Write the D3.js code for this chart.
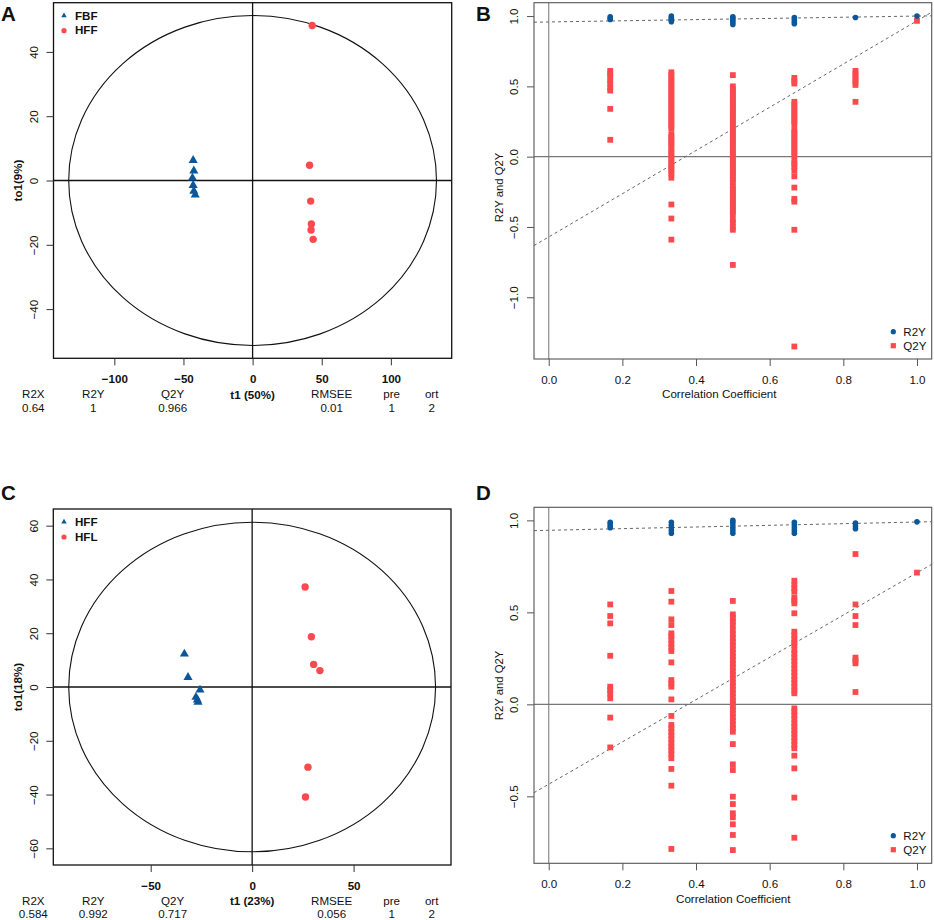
<!DOCTYPE html>
<html>
<head>
<meta charset="utf-8">
<script src="https://cdn.jsdelivr.net/npm/d3@7"></script>
<style>
body { margin: 0; background: #fff; }
text { font-family: "Liberation Sans", Arial, sans-serif; fill: #111; }
</style>
</head>
<body>
<svg id="fig" width="934" height="920"></svg>
<script>
// ---------- score plot data (t1, to1) ----------
var groupsA = ["FBF", "HFF"];
var scoreA_FBF = [[-43, 6.3], [-42.5, 3.0], [-43.5, 0.8], [-43, -1.5], [-42.5, -3.3], [-41.5, -4.5]];
var scoreA_HFF = [[43.1, 48.2], [41.2, 4.75], [42, -6.4], [42.5, -13.5], [42.3, -15.4], [43.8, -18.3]];
var statsA = ["0.64", "1", "0.966", "0.01", "1", "2"];

var groupsC = ["HFF", "HFL"];
var scoreC_HFF = [[-33.4, 12.3], [-31.6, 3.6], [-25.7, -1.1], [-27.7, -3.8], [-27, -4.8], [-26.7, -5.6]];
var scoreC_HFL = [[26.1, 37.2], [29.2, 18.7], [30.3, 8.4], [33.4, 6.1], [27.5, -29.8], [26.3, -40.9]];
var statsC = ["0.584", "0.992", "0.717", "0.056", "1", "2"];

var statNames = ["R2X", "R2Y", "Q2Y", "RMSEE", "pre", "ort"];

// ---------- permutation data ----------
var corrX = [0.167, 0.333, 0.5, 0.667, 0.833, 1.0];

var r2B = [
  [0.975, 0.985, 0.995],
  [0.96, 0.97, 0.98, 0.99, 1.0],
  [0.94, 0.955, 0.97, 0.985, 0.995],
  [0.945, 0.96, 0.975, 0.99],
  [0.99],
  [1.0]
];
var q2B = [
  [0.61, 0.59, 0.57, 0.54, 0.52, 0.49, 0.47, 0.34, 0.12],
  [0.60, 0.58, 0.56, 0.54, 0.52, 0.50, 0.48, 0.46, 0.44, 0.42, 0.40, 0.38, 0.36, 0.34, 0.32, 0.30,
   0.28, 0.26, 0.24, 0.22, 0.20, 0.16, 0.14, 0.12, 0.10, 0.085, 0.06, 0.04, 0.02, 0.00, -0.02,
   -0.04, -0.06, -0.08, -0.10, -0.12, -0.15, -0.34, -0.44, -0.59],
  [0.58, 0.50, 0.48, 0.46, 0.44, 0.42, 0.40, 0.38, 0.36, 0.34, 0.32, 0.30, 0.28, 0.26, 0.24, 0.22,
   0.20, 0.18, 0.16, 0.14, 0.12, 0.10, 0.08, 0.06, 0.04, 0.02, 0.00, -0.02, -0.04, -0.06, -0.08,
   -0.10, -0.12, -0.14, -0.16, -0.18, -0.21, -0.23, -0.25, -0.27, -0.29, -0.31, -0.33, -0.35,
   -0.37, -0.39, -0.41, -0.45, -0.47, -0.50, -0.52, -0.77],
  [0.56, 0.54, 0.52, 0.39, 0.37, 0.35, 0.33, 0.31, 0.29, 0.27, 0.25, 0.23, 0.19, 0.17, 0.15, 0.13,
   0.11, 0.09, 0.07, 0.05, 0.03, 0.01, -0.03, -0.05, -0.07, -0.10, -0.14, -0.22, -0.30, -0.32,
   -0.52, -1.35],
  [0.61, 0.59, 0.57, 0.55, 0.53, 0.51, 0.39],
  [0.966]
];
var linesB = {r2: [0.958, 0.042], q2: [-0.571, 1.537]};   // [intercept, slope]

var r2D = [
  [0.96, 0.97, 0.98, 0.99],
  [0.93, 0.945, 0.96, 0.975, 0.99],
  [0.93, 0.945, 0.96, 0.975, 0.99, 1.0],
  [0.93, 0.945, 0.96, 0.975, 0.99],
  [0.955, 0.97, 0.985],
  [0.992]
];
var q2D = [
  [0.543, 0.48, 0.44, 0.264, 0.096, 0.078, 0.06, 0.033, -0.072, -0.234],
  [0.616, 0.558, 0.462, 0.431, 0.386, 0.37, 0.35, 0.33, 0.31, 0.29, 0.228, 0.132, 0.114, 0.096,
   0.027, -0.063, -0.112, -0.13, -0.15, -0.17, -0.19, -0.21, -0.23, -0.25, -0.27, -0.293, -0.351,
   -0.442, -0.786],
  [0.562, 0.489, 0.47, 0.45, 0.43, 0.404, 0.38, 0.36, 0.34, 0.32, 0.30, 0.28, 0.26, 0.24, 0.22,
   0.20, 0.18, 0.16, 0.14, 0.12, 0.10, 0.08, 0.06, 0.04, 0.02, 0.005, -0.013, -0.03, -0.05, -0.07,
   -0.09, -0.11, -0.13, -0.149, -0.216, -0.326, -0.357, -0.502, -0.542, -0.592, -0.614, -0.652,
   -0.71, -0.792],
  [0.672, 0.65, 0.63, 0.612, 0.58, 0.565, 0.549, 0.495, 0.395, 0.375, 0.355, 0.335, 0.322, 0.295,
   0.275, 0.255, 0.235, 0.215, 0.195, 0.175, 0.155, 0.135, 0.115, 0.095, 0.075, 0.06, -0.022,
   -0.04, -0.06, -0.08, -0.103, -0.121, -0.14, -0.16, -0.18, -0.2, -0.22, -0.239, -0.279, -0.348,
   -0.507, -0.725],
  [0.817, 0.543, 0.48, 0.431, 0.254, 0.238, 0.223, 0.067],
  [0.716]
];
var linesD = {r2: [0.946, 0.045], q2: [-0.434, 1.149]};

var blue = "#0b5799", red = "#fb4a4d";
var fs = "11.6px";
var svg = d3.select("#fig");

function drawScore(cfg) {
    var g = svg.append("g");
    var x = d3.scaleLinear().domain(cfg.xd).range([cfg.l, cfg.r]);
    var y = d3.scaleLinear().domain(cfg.yd).range([cfg.b, cfg.t]);

    g.append("ellipse")
        .attr("cx", x(0)).attr("cy", y(0))
        .attr("rx", x(cfg.ell[0]) - x(0)).attr("ry", y(0) - y(cfg.ell[1]))
        .attr("fill", "none").attr("stroke", "#111").attr("stroke-width", 1.1);

    g.append("line").attr("x1", cfg.l).attr("x2", cfg.r).attr("y1", y(0)).attr("y2", y(0))
        .attr("stroke", "#111").attr("stroke-width", 1.3);
    g.append("line").attr("x1", x(0)).attr("x2", x(0)).attr("y1", cfg.t).attr("y2", cfg.b)
        .attr("stroke", "#111").attr("stroke-width", 1.3);

    g.selectAll(".tri").data(cfg.g1).enter().append("path")
        .attr("d", d3.symbol(d3.symbolTriangle, 36))
        .attr("transform", d => "translate(" + x(d[0]) + "," + y(d[1]) + ")")
        .attr("fill", blue);
    g.selectAll(".dot").data(cfg.g2).enter().append("circle")
        .attr("cx", d => x(d[0])).attr("cy", d => y(d[1])).attr("r", 3.7)
        .attr("fill", red);

    g.append("rect").attr("x", cfg.l).attr("y", cfg.t)
        .attr("width", cfg.r - cfg.l).attr("height", cfg.b - cfg.t)
        .attr("fill", "none").attr("stroke", "#111").attr("stroke-width", 1.3);

    var xa = g.append("g").attr("transform", "translate(0," + cfg.b + ")")
        .call(d3.axisBottom(x).tickValues(cfg.xt).tickSize(7).tickFormat(d3.format("d")));
    xa.select(".domain").remove();
    xa.selectAll("line").attr("stroke", "#333");
    xa.selectAll("text").attr("y", cfg.xlab).attr("dy", 0)
        .style("font-size", fs).style("font-weight", "bold").attr("fill", "#111");

    var ya = g.append("g").attr("transform", "translate(" + cfg.l + ",0)")
        .call(d3.axisLeft(y).tickValues(cfg.yt).tickSize(7).tickFormat(d3.format("d")));
    ya.select(".domain").remove();
    ya.selectAll("line").attr("stroke", "#333");
    ya.selectAll("text").attr("transform", "rotate(-90)").attr("x", 0).attr("y", -15.2)
        .attr("dy", 0).attr("text-anchor", "middle").style("font-size", fs).attr("fill", "#111");

    g.append("text").attr("x", x(0)).attr("y", cfg.ttl)
        .attr("text-anchor", "middle").style("font-size", fs).style("font-weight", "bold")
        .text(cfg.xTitle);
    g.append("text").attr("transform", "translate(21.7," + y(0) + ") rotate(-90)")
        .attr("text-anchor", "middle").style("font-size", fs).style("font-weight", "bold")
        .text(cfg.yTitle);

    var cols = [33.3, 93.3, 172.7, 331.7, 391.7, 431.7];
    statNames.forEach(function (s, i) {
        g.append("text").attr("x", cols[i]).attr("y", cfg.st1).attr("text-anchor", "middle")
            .style("font-size", fs).attr("fill", "#222").text(s);
        g.append("text").attr("x", cols[i]).attr("y", cfg.st1 + 13.4).attr("text-anchor", "middle")
            .style("font-size", fs).attr("fill", "#222").text(cfg.stats[i]);
    });

    // legend
    g.append("path").attr("d", d3.symbol(d3.symbolTriangle, 13))
        .attr("transform", "translate(64," + (cfg.t + 13) + ")").attr("fill", blue);
    g.append("circle").attr("cx", 64).attr("cy", cfg.t + 28).attr("r", 2.6).attr("fill", red);
    g.append("text").attr("x", 75).attr("y", cfg.t + 17.3).style("font-size", fs)
        .style("font-weight", "bold").text(cfg.names[0]);
    g.append("text").attr("x", 75).attr("y", cfg.t + 31.5).style("font-size", fs)
        .style("font-weight", "bold").text(cfg.names[1]);

    g.append("text").attr("x", 1).attr("y", cfg.letterY).style("font-size", "20.5px")
        .style("font-weight", "bold").text(cfg.letter);
}

function drawPerm(cfg) {
    var g = svg.append("g");
    var x = d3.scaleLinear().domain([-0.04, 1.04]).range([cfg.l, cfg.r]);
    var y = d3.scaleLinear().domain(cfg.yd).range([cfg.b, cfg.t]);
    var clipId = "clip" + cfg.letter;
    g.append("clipPath").attr("id", clipId).append("rect")
        .attr("x", cfg.l).attr("y", cfg.t).attr("width", cfg.r - cfg.l).attr("height", cfg.b - cfg.t);

    g.append("line").attr("x1", x(0)).attr("x2", x(0)).attr("y1", cfg.t).attr("y2", cfg.b)
        .attr("stroke", "#8a8a8a").attr("stroke-width", 1.2);
    g.append("line").attr("x1", cfg.l).attr("x2", cfg.r).attr("y1", y(0)).attr("y2", y(0))
        .attr("stroke", "#777").attr("stroke-width", 1.1);

    var xd = x.domain();
    [cfg.lines.r2, cfg.lines.q2].forEach(function (ab) {
        g.append("line").attr("clip-path", "url(#" + clipId + ")")
            .attr("x1", x(xd[0])).attr("y1", y(ab[0] + ab[1] * xd[0]))
            .attr("x2", x(xd[1])).attr("y2", y(ab[0] + ab[1] * xd[1]))
            .attr("stroke", "#666").attr("stroke-width", 1).attr("stroke-dasharray", "3,3");
    });

    var qPts = [], rPts = [];
    cfg.q2.forEach((col, i) => col.forEach(v => qPts.push({x: corrX[i], y: v})));
    cfg.r2.forEach((col, i) => col.forEach(v => rPts.push({x: corrX[i], y: v})));

    var s = 5.8;
    g.selectAll(".sq").data(qPts).enter().append("rect")
        .attr("x", d => x(d.x) - s / 2).attr("y", d => y(d.y) - s / 2)
        .attr("width", s).attr("height", s)
        .attr("fill", red);
    g.selectAll(".rc").data(rPts).enter().append("circle")
        .attr("cx", d => x(d.x)).attr("cy", d => y(d.y)).attr("r", 2.8)
        .attr("fill", blue);

    g.append("rect").attr("x", cfg.l).attr("y", cfg.t)
        .attr("width", cfg.r - cfg.l).attr("height", cfg.b - cfg.t)
        .attr("fill", "none").attr("stroke", "#555").attr("stroke-width", 1.1);

    var xa = g.append("g").attr("transform", "translate(0," + cfg.b + ")")
        .call(d3.axisBottom(x).tickValues([0, 0.2, 0.4, 0.6, 0.8, 1.0]).tickSize(7).tickFormat(d3.format(".1f")));
    xa.select(".domain").remove();
    xa.selectAll("line").attr("stroke", "#555");
    xa.selectAll("text").attr("y", cfg.xlab).attr("dy", 0).style("font-size", fs).attr("fill", "#222");

    var ya = g.append("g").attr("transform", "translate(" + cfg.l + ",0)")
        .call(d3.axisLeft(y).tickValues(cfg.yt).tickSize(7).tickFormat(d3.format(".1f")));
    ya.select(".domain").remove();
    ya.selectAll("line").attr("stroke", "#555");
    ya.selectAll("text").attr("transform", "rotate(-90)").attr("x", 0).attr("y", -15.7)
        .attr("dy", 0).attr("text-anchor", "middle").style("font-size", fs).attr("fill", "#222");

    g.append("text").attr("x", cfg.xTitleX).attr("y", cfg.ttl).attr("text-anchor", "middle")
        .style("font-size", fs).attr("fill", "#222").text("Correlation Coefficient");
    g.append("text").attr("transform", "translate(503.3," + cfg.yTitleY + ") rotate(-90)")
        .attr("text-anchor", "middle").style("font-size", "11.3px").attr("fill", "#222")
        .text("R2Y and Q2Y");

    // legend
    g.append("circle").attr("cx", 893.3).attr("cy", cfg.legY).attr("r", 2.6).attr("fill", blue);
    g.append("rect").attr("x", 893.3 - 2.6).attr("y", cfg.legY + 14 - 2.6)
        .attr("width", 5.2).attr("height", 5.2).attr("fill", red);
    g.append("text").attr("x", 903.3).attr("y", cfg.legY + 4.2).style("font-size", fs)
        .attr("fill", "#222").text("R2Y");
    g.append("text").attr("x", 903.3).attr("y", cfg.legY + 18.2).style("font-size", fs)
        .attr("fill", "#222").text("Q2Y");

    g.append("text").attr("x", 476).attr("y", cfg.letterY).style("font-size", "20.5px")
        .style("font-weight", "bold").text(cfg.letter);
}

drawScore({
    letter: "A", letterY: 20.7, l: 53.5, r: 451.7, t: 2.7, b: 358.3,
    xd: [-144, 144], yd: [-55.3, 55.3], xt: [-100, -50, 0, 50, 100], yt: [-40, -20, 0, 20, 40],
    ell: [133, 51.3], g1: scoreA_FBF, g2: scoreA_HFF, names: groupsA, stats: statsA,
    xTitle: "t1 (50%)", yTitle: "to1(9%)", xlab: 25, ttl: 398.5, st1: 398.3
});
drawScore({
    letter: "C", letterY: 500, l: 53.3, r: 451, t: 509, b: 865,
    xd: [-98, 98], yd: [-66.2, 66.2], xt: [-50, 0, 50], yt: [-60, -40, -20, 0, 20, 40, 60],
    ell: [90.4, 61.3], g1: scoreC_HFF, g2: scoreC_HFL, names: groupsC, stats: statsC,
    xTitle: "t1 (23%)", yTitle: "to1(18%)", xlab: 25, ttl: 905, st1: 904.8
});
drawPerm({
    letter: "B", letterY: 20.7, l: 534, r: 931.7, t: 2.7, b: 359,
    yd: [-1.439, 1.095], yt: [-1.0, -0.5, 0, 0.5, 1.0], r2: r2B, q2: q2B, lines: linesB,
    xlab: 25, ttl: 398.3, xTitleX: 719.3, yTitleY: 187.5, legY: 331.7
});
drawPerm({
    letter: "D", letterY: 500, l: 534, r: 931.7, t: 507.3, b: 863.3,
    yd: [-0.864, 1.071], yt: [-0.5, 0, 0.5, 1.0], r2: r2D, q2: q2D, lines: linesD,
    xlab: 25, ttl: 902.7, xTitleX: 733.3, yTitleY: 685.5, legY: 835.7
});
</script>
</body>
</html>
